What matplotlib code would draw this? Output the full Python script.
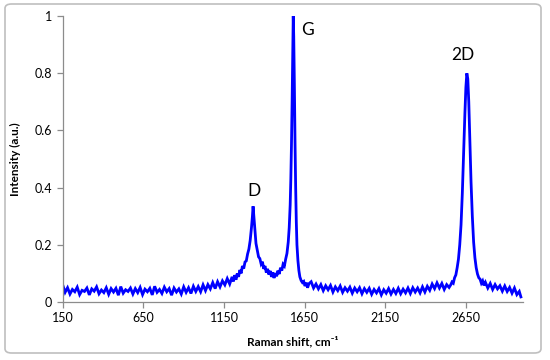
import matplotlib
matplotlib.use("Agg")
import matplotlib.pyplot as plt
from matplotlib.patches import FancyBboxPatch

# ---- data (Raman shift in cm^-1, intensity a.u.) ----
shift_low = [150, 165, 180, 195, 210, 225, 240, 255, 270, 285, 300, 315, 330, 345, 360,
             375, 390, 405, 420, 435, 450, 465, 480, 495, 510, 525, 540, 555, 570, 585,
             600, 615, 630, 645, 660, 675, 690, 705, 720, 735, 750, 765, 780, 795, 810,
             825, 840, 855, 870, 885, 900, 915, 930, 945, 960, 975, 990, 1005, 1020, 1035,
             1050, 1065, 1080, 1095, 1110, 1125, 1140, 1155, 1170, 1185, 1200]
int_low = [0.060, 0.034, 0.050, 0.028, 0.044, 0.036, 0.052, 0.026, 0.041, 0.037, 0.049, 0.025,
           0.046, 0.038, 0.053, 0.029, 0.042, 0.033, 0.050, 0.027, 0.047, 0.035, 0.048, 0.024,
           0.054, 0.031, 0.043, 0.037, 0.049, 0.028, 0.047, 0.033, 0.051, 0.026, 0.045, 0.036,
           0.048, 0.025, 0.055, 0.034, 0.044, 0.030, 0.052, 0.036, 0.047, 0.024, 0.049, 0.035,
           0.046, 0.028, 0.053, 0.034, 0.050, 0.030, 0.055, 0.037, 0.054, 0.036, 0.060, 0.040,
           0.061, 0.046, 0.068, 0.047, 0.071, 0.053, 0.074, 0.060, 0.082, 0.063, 0.088]

shift_dg = [1208, 1216, 1224, 1232, 1240, 1248, 1256, 1264, 1272, 1280, 1288, 1296, 1304,
            1312, 1320, 1326, 1330, 1334, 1340, 1348, 1356, 1364, 1372, 1380, 1388, 1396,
            1404, 1412, 1420, 1428, 1436, 1444, 1452, 1460, 1468, 1476, 1484, 1492, 1500,
            1508, 1516, 1524, 1532, 1540, 1548, 1554, 1560, 1564, 1568, 1572, 1576, 1579,
            1582, 1586, 1590, 1594, 1598, 1602, 1608, 1614, 1620, 1628, 1636, 1644, 1652,
            1660, 1668, 1676]
int_dg = [0.072, 0.094, 0.078, 0.100, 0.088, 0.112, 0.100, 0.126, 0.117, 0.140, 0.144, 0.168,
          0.185, 0.215, 0.260, 0.300, 0.335, 0.305, 0.255, 0.205, 0.182, 0.158, 0.152, 0.133,
          0.141, 0.116, 0.126, 0.103, 0.116, 0.096, 0.109, 0.088, 0.104, 0.084, 0.101, 0.090,
          0.110, 0.098, 0.120, 0.110, 0.132, 0.126, 0.150, 0.170, 0.210, 0.260, 0.340, 0.430,
          0.550, 0.700, 0.880, 1.000, 0.930, 0.760, 0.560, 0.400, 0.280, 0.200, 0.145, 0.110,
          0.088, 0.075, 0.068, 0.072, 0.056, 0.068, 0.050, 0.064]

shift_mid = [1690, 1705, 1720, 1735, 1750, 1765, 1780, 1795, 1810, 1825, 1840, 1855, 1870,
             1885, 1900, 1915, 1930, 1945, 1960, 1975, 1990, 2005, 2020, 2035, 2050, 2065,
             2080, 2095, 2110, 2125, 2140, 2155, 2170, 2185, 2200, 2215, 2230, 2245, 2260,
             2275, 2290, 2305, 2320, 2335, 2350, 2365, 2380, 2395, 2410, 2425, 2440, 2455,
             2470, 2485, 2500, 2515, 2530, 2545]
int_mid = [0.071, 0.049, 0.063, 0.046, 0.061, 0.040, 0.057, 0.043, 0.058, 0.035, 0.053, 0.040,
           0.056, 0.034, 0.050, 0.038, 0.052, 0.031, 0.049, 0.036, 0.050, 0.029, 0.047, 0.034,
           0.048, 0.027, 0.044, 0.032, 0.047, 0.025, 0.043, 0.031, 0.047, 0.028, 0.044, 0.030,
           0.048, 0.029, 0.045, 0.032, 0.049, 0.030, 0.050, 0.035, 0.049, 0.032, 0.053, 0.035,
           0.055, 0.041, 0.063, 0.047, 0.067, 0.049, 0.065, 0.044, 0.061, 0.051]

shift_2d = [2555, 2563, 2571, 2579, 2587, 2595, 2603, 2611, 2619, 2627, 2635, 2643, 2649,
            2655, 2661, 2667, 2673, 2681, 2689, 2697, 2705, 2713, 2721, 2729, 2737, 2745,
            2753, 2761]
int_2d = [0.060, 0.070, 0.066, 0.085, 0.095, 0.120, 0.150, 0.200, 0.270, 0.380, 0.520, 0.660,
          0.750, 0.800, 0.780, 0.700, 0.580, 0.420, 0.300, 0.210, 0.155, 0.120, 0.098, 0.085,
          0.080, 0.066, 0.074, 0.058]

shift_high = [2770, 2785, 2800, 2815, 2830, 2845, 2860, 2875, 2890, 2905, 2920, 2935, 2950,
              2965, 2980, 2990]
int_high = [0.069, 0.049, 0.065, 0.044, 0.061, 0.046, 0.057, 0.038, 0.056, 0.037, 0.051, 0.031,
            0.049, 0.026, 0.037, 0.018]

x_ticks = [150, 650, 1150, 1650, 2150, 2650]
y_ticks = [0, 0.2, 0.4, 0.6, 0.8, 1]
y_tick_labels = ["0", "0.2", "0.4", "0.6", "0.8", "1"]
peak_labels = ["D", "G", "2D"]
peak_label_x = [1336, 1669, 2629]
peak_label_y = [0.388, 0.951, 0.864]

shift = shift_low + shift_dg + shift_mid + shift_2d + shift_high
intensity = int_low + int_dg + int_mid + int_2d + int_high

plt.rcParams['font.family'] = ['Lato', 'DejaVu Sans']

fig = plt.figure(figsize=(5.5, 3.6), dpi=100)
ax = fig.add_axes([0.114, 0.161, 0.836, 0.7944])

ax.plot(shift, intensity, color='#0000ff', lw=2.0, solid_joinstyle='miter')

ax.set_xlim(150, 3000)
ax.set_ylim(0, 1)
ax.set_xticks(x_ticks)
ax.set_yticks(y_ticks)
ax.set_yticklabels(y_tick_labels)

for s in ['top', 'right']:
    ax.spines[s].set_visible(False)
for s in ['left', 'bottom']:
    ax.spines[s].set_color('#8c8c8c')
    ax.spines[s].set_linewidth(0.9)
ax.tick_params(axis='both', direction='out', length=4, width=0.9, color='#8c8c8c',
               labelsize=9, labelcolor='black')

ax.set_xlabel('Raman shift, cm\u207b\u00b9', fontsize=8.5, fontweight='bold', labelpad=8)
ax.set_ylabel('Intensity (a.u.)', fontsize=8.5, fontweight='bold', labelpad=10)

for lab, lx, ly in zip(peak_labels, peak_label_x, peak_label_y):
    ax.text(lx, ly, lab, fontsize=12.5, ha='center', va='center', color='black')

border = FancyBboxPatch((5 / 550, 7 / 360), 536 / 550, 349 / 360,
                        boxstyle='round,pad=0,rounding_size=0.012',
                        transform=fig.transFigure, fill=False,
                        edgecolor='#bfbfbf', lw=1.2)
fig.patches.append(border)

fig.savefig('out.png', dpi=100)
